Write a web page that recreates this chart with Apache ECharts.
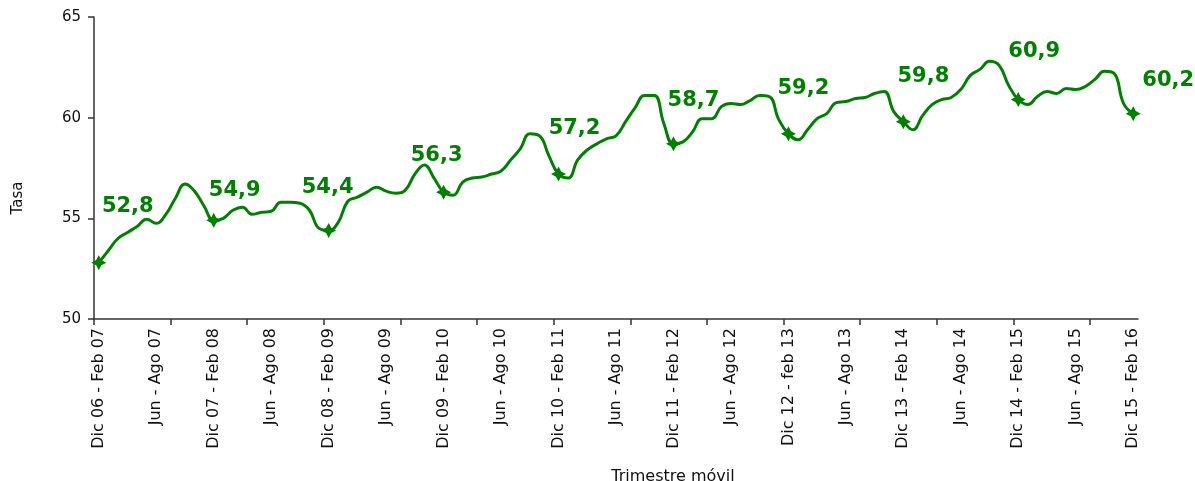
<!DOCTYPE html>
<html>
<head>
<meta charset="utf-8">
<script src="https://cdn.jsdelivr.net/npm/echarts@6/dist/echarts.min.js"></script>
<style>
html,body{margin:0;padding:0;background:#fff;}
#chart{width:1195px;height:481px;}
</style>
</head>
<body>
<div id="chart"></div>
<script>
// Tick labels shown on the x axis (every 6th category)
const tickLabels = [
  "Dic 06 - Feb 07","Jun - Ago 07","Dic 07 - Feb 08","Jun - Ago 08","Dic 08 - Feb 09",
  "Jun - Ago 09","Dic 09 - Feb 10","Jun - Ago 10","Dic 10 - Feb 11","Jun - Ago 11",
  "Dic 11 - Feb 12","Jun - Ago 12","Dic 12 - feb 13","Jun - Ago 13","Dic 13 - Feb 14",
  "Jun - Ago 14","Dic 14 - Feb 15","Jun - Ago 15","Dic 15 - Feb 16"
];

// Moving-quarter categories (Dic 06 - Feb 07 ... Dic 15 - Feb 16)
const monthNames = ["Ene","Feb","Mar","Abr","May","Jun","Jul","Ago","Sep","Oct","Nov","Dic"];
const categories = [];
for (let i = 0; i < 109; i++) {
  const m0 = (11 + i) % 12, y0 = 6 + Math.floor((11 + i) / 12);
  const m2 = (m0 + 2) % 12, y2 = y0 + (m0 + 2 >= 12 ? 1 : 0);
  const yy = n => String(n).padStart(2, "0");
  categories.push(y0 === y2 ? monthNames[m0] + " - " + monthNames[m2] + " " + yy(y2)
                            : monthNames[m0] + " " + yy(y0) + " - " + monthNames[m2] + " " + yy(y2));
}
for (let k = 0; k < tickLabels.length; k++) categories[k * 6] = tickLabels[k];

// Tasa (rate) values, one per moving quarter
const tasa = [
  52.8, 53.4, 54.0, 54.3, 54.6, 54.95, 54.75, 55.2, 56.0, 56.7, 56.35, 55.6,
  54.9, 55.0, 55.4, 55.55, 55.2, 55.3, 55.35, 55.8, 55.8, 55.75, 55.4, 54.5,
  54.4, 54.8, 55.85, 56.05, 56.3, 56.55, 56.35, 56.25, 56.4, 57.2, 57.65, 57.0,
  56.3, 56.15, 56.8, 57.0, 57.05, 57.2, 57.35, 57.9, 58.45, 59.2, 59.1, 58.1,
  57.2, 57.0, 57.9, 58.4, 58.7, 58.95, 59.1, 59.8, 60.5, 61.1, 61.1, 59.7,
  58.7, 58.8, 59.3, 59.95, 59.95, 60.55, 60.7, 60.65, 60.85, 61.1, 61.05, 59.9,
  59.2, 58.9, 59.4, 59.95, 60.2, 60.75, 60.8, 60.95, 61.0, 61.2, 61.3, 60.3,
  59.8, 59.4, 60.1, 60.65, 60.9, 61.0, 61.4, 62.1, 62.4, 62.8, 62.6, 61.6,
  60.9, 60.65, 61.05, 61.3, 61.2, 61.45, 61.4, 61.55, 61.9, 62.3, 62.2, 60.7,
  60.2
];

// Indices of the labelled (Dic - Feb) points
const labelledIdx = [0, 12, 24, 36, 48, 60, 72, 84, 96, 108];
// Label offsets (styling), one per labelled point
const labelOffsets = [[29,-56],[21,-30],[-1,-43],[-7,-37],[16,-45],[20,-43],[15,-45],[20,-45],[16,-48],[35,-33]];

// Category positions: labels every 6 categories, tick marks every 8 categories (at band edges)
const labelPos = tickLabels.map((_, k) => k * 6);
const tickPos = [];
for (let b = 0; b <= 104; b += 8) tickPos.push(b - 0.5);

const green = "#008000";
const starPath = "path://M0,-10 L3.5,-3.5 L10,0 L3.5,3.5 L0,10 L-3.5,3.5 L-10,0 L-3.5,-3.5 Z";

const seriesData = tasa.map((v, i) => {
  const li = labelledIdx.indexOf(i);
  if (li < 0) return { value: [i, v], symbol: "none" };
  return {
    value: [i, v],
    symbol: starPath,
    symbolSize: 15,
    label: {
      show: true,
      position: "inside",
      align: "center",
      verticalAlign: "middle",
      offset: labelOffsets[li],
      formatter: p => p.value[1].toFixed(1).replace(".", ","),
      color: green,
      fontFamily: "DejaVu Sans",
      fontWeight: "bold",
      fontSize: 21
    }
  };
});

const chart = echarts.init(document.getElementById("chart"), null, { renderer: "canvas" });
chart.setOption({
  animation: false,
  backgroundColor: "#ffffff",
  grid: { left: 94, right: 57, top: 17, bottom: 162, containLabel: false },
  xAxis: {
    type: "value",
    min: -0.5,
    max: categories.length - 0.5,
    axisLine: { show: true, onZero: false, lineStyle: { color: "#333", width: 1.5 } },
    axisTick: { show: true, customValues: tickPos, length: 6, lineStyle: { color: "#333", width: 1.5 } },
    axisLabel: {
      customValues: labelPos,
      formatter: v => categories[Math.round(v)],
      rotate: 90,
      margin: 9,
      color: "#111",
      fontFamily: "DejaVu Sans",
      fontSize: 16,
      showMinLabel: true,
      showMaxLabel: true
    },
    splitLine: { show: false }
  },
  yAxis: {
    type: "value",
    min: 50,
    max: 65,
    interval: 5,
    axisLine: { show: true, onZero: false, lineStyle: { color: "#333", width: 1.5 } },
    axisTick: { show: true, length: 6, lineStyle: { color: "#333", width: 1.5 } },
    axisLabel: { margin: 13, color: "#111", fontFamily: "DejaVu Sans", fontSize: 15 },
    splitLine: { show: false }
  },
  graphic: [
    { type: "text", x: 18, y: 198, rotation: Math.PI / 2,
      style: { text: "Tasa", fill: "#111", font: "15px 'DejaVu Sans'", align: "center", verticalAlign: "middle" } },
    { type: "text", x: 673, y: 469,
      style: { text: "Trimestre móvil", fill: "#111", font: "16px 'DejaVu Sans'", align: "center", verticalAlign: "top" } }
  ],
  series: [{
    type: "line",
    data: seriesData,
    smooth: 0.45,
    showAllSymbol: true,
    symbol: "none",
    lineStyle: { color: green, width: 3 },
    itemStyle: { color: green },
    label: { show: false },
    z: 3
  }]
});
</script>
</body>
</html>
